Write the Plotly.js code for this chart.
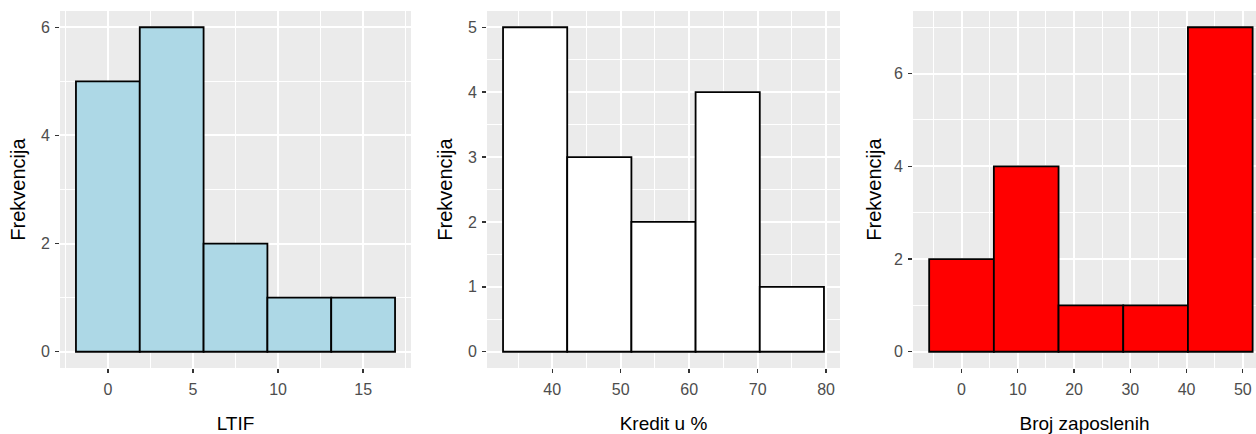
<!DOCTYPE html>
<html>
<head>
<meta charset="utf-8">
<script src="https://cdn.plot.ly/plotly-3.0.1.min.js"></script>
<style>
html,body{margin:0;padding:0;background:#fff;overflow:hidden;}
#chart{width:1256px;height:434px;}
</style>
</head>
<body>
<div id="chart"></div>
<script>
// LTIF histogram
const ltifCenters = [0, 3.75, 7.5, 11.25, 15];
const ltifCounts = [5, 6, 2, 1, 1];
const ltifBinWidth = 3.75;
// Kredit u % histogram
const kreditCenters = [37.5, 46.875, 56.25, 65.625, 75];
const kreditCounts = [5, 3, 2, 4, 1];
const kreditBinWidth = 9.375;
// Broj zaposlenih histogram
const brojCenters = [0, 11.5, 23, 34.5, 46];
const brojCounts = [2, 4, 1, 1, 7];
const brojBinWidth = 11.5;

const yTitle = 'Frekvencija';
const xTitles = ['LTIF', 'Kredit u %', 'Broj zaposlenih'];

const W = 1256, H = 434;
const FONT = 'Liberation Sans, Arial, sans-serif';

function bar(x, y, w, color, xa, ya) {
  return {
    type: 'bar', x: x, y: y, width: x.map(() => w),
    xaxis: xa, yaxis: ya,
    marker: {color: color, line: {color: '#000', width: 1.8}},
    hoverinfo: 'x+y', showlegend: false
  };
}

const data = [
  bar(ltifCenters, ltifCounts, ltifBinWidth, '#ADD8E6', 'x', 'y'),
  bar(kreditCenters, kreditCounts, kreditBinWidth, '#FFFFFF', 'x2', 'y2'),
  bar(brojCenters, brojCounts, brojBinWidth, '#FF0000', 'x3', 'y3')
];

const yDom = [(H - 368) / H, (H - 11) / H];

function xAxis(dom, range, tickvals, minor0, minorD, title, anchor) {
  return {
    domain: [dom[0] / W, dom[1] / W], range: range, anchor: anchor,
    tickmode: 'array', tickvals: tickvals,
    ticks: 'outside', ticklen: 4, tickwidth: 1.4, tickcolor: '#333',
    ticklabelstandoff: 3,
    tickfont: {family: FONT, size: 16, color: '#4d4d4d'},
    showgrid: true, gridcolor: '#ffffff', gridwidth: 2,
    minor: {tick0: minor0, dtick: minorD, showgrid: true, gridcolor: '#ffffff', gridwidth: 1},
    zeroline: false, showline: false, fixedrange: true,
    title: {text: title, font: {family: FONT, size: 19, color: '#000'}, standoff: 19}
  };
}
function yAxis(range, tickvals, minor0, minorD, anchor, standoff) {
  return {
    domain: yDom, range: range, anchor: anchor,
    tickmode: 'array', tickvals: tickvals,
    ticks: 'outside', ticklen: 4, tickwidth: 1.4, tickcolor: '#333',
    ticklabelstandoff: 2,
    tickfont: {family: FONT, size: 16, color: '#4d4d4d'},
    showgrid: true, gridcolor: '#ffffff', gridwidth: 2,
    minor: {tick0: minor0, dtick: minorD, showgrid: true, gridcolor: '#ffffff', gridwidth: 1},
    zeroline: false, showline: false, fixedrange: true,
    title: {text: yTitle, font: {family: FONT, size: 20, color: '#000'}, standoff: standoff}
  };
}

const layout = {
  width: W, height: H,
  margin: {l: 0, r: 0, t: 0, b: 0, autoexpand: false},
  paper_bgcolor: '#ffffff', plot_bgcolor: '#EBEBEB',
  bargap: 0,
  xaxis: xAxis([60, 411], [-2.8125, 17.8125], [0, 5, 10, 15], 2.5, 5, xTitles[0], 'y'),
  yaxis: yAxis([-0.3, 6.3], [0, 2, 4, 6], 1, 2, 'x', 9),
  xaxis2: xAxis([487, 840], [30.47, 82.03], [40, 50, 60, 70, 80], 35, 10, xTitles[1], 'y2'),
  yaxis2: yAxis([-0.25, 5.25], [0, 1, 2, 3, 4, 5], 0.5, 1, 'x2', 9),
  xaxis3: xAxis([913, 1256], [-8.625, 52.35], [0, 10, 20, 30, 40, 50], -5, 10, xTitles[2], 'y3'),
  yaxis3: yAxis([-0.35, 7.35], [0, 2, 4, 6], 1, 2, 'x3', 6)
};

Plotly.newPlot('chart', data, layout, {displayModeBar: false, staticPlot: true});
</script>
</body>
</html>
